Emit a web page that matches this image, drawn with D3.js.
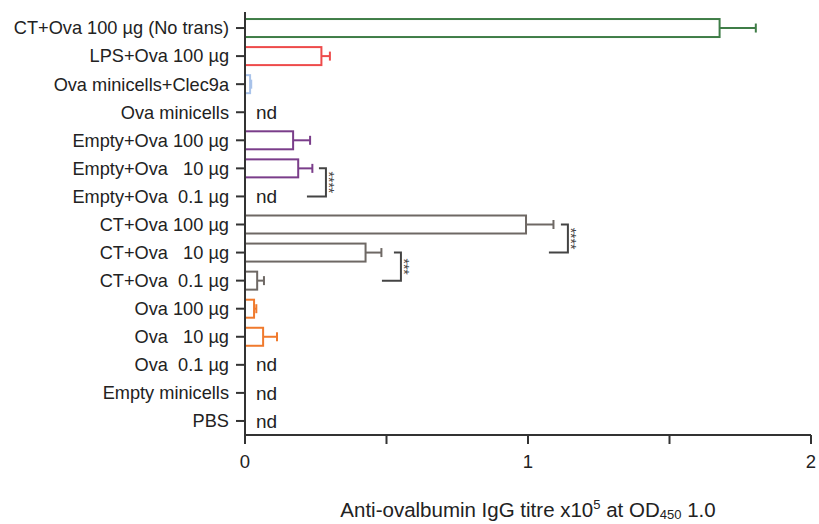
<!DOCTYPE html>
<html>
<head>
<meta charset="utf-8">
<script src="https://cdn.jsdelivr.net/npm/d3@7/dist/d3.min.js"></script>
<style>
  html, body { margin: 0; padding: 0; background: #fff; }
  svg { display: block; font-family: "Liberation Sans", Arial, Helvetica, sans-serif; }
</style>
</head>
<body>
<svg id="chart" width="819" height="524"></svg>
<script>
// Groups, top to bottom
const groups = [
  "CT+Ova 100 µg (No trans)",
  "LPS+Ova 100 µg",
  "Ova minicells+Clec9a",
  "Ova minicells",
  "Empty+Ova 100 µg",
  "Empty+Ova   10 µg",
  "Empty+Ova  0.1 µg",
  "CT+Ova 100 µg",
  "CT+Ova   10 µg",
  "CT+Ova  0.1 µg",
  "Ova 100 µg",
  "Ova   10 µg",
  "Ova  0.1 µg",
  "Empty minicells",
  "PBS"
];
// Mean titre (x10^5); null = not detected
const means = [1.677, 0.27, 0.018, null, 0.17, 0.188, null, 0.993, 0.426, 0.043, 0.032, 0.064, null, null, null];
// Upper end of the error bar (mean + SEM)
const upper = [1.805, 0.30, 0.022, null, 0.23, 0.238, null, 1.09, 0.482, 0.067, 0.04, 0.113, null, null, null];
const colors = ["#3f7d47", "#ee4b4b", "#a9c3ea", "#7a3d8a", "#7a3d8a", "#7a3d8a", "#7a3d8a",
                "#6e6864", "#6e6864", "#6e6864", "#f07a2d", "#f07a2d", "#f07a2d", "#333", "#333"];

// Significance comparisons: from group, to group, bracket position (titre units), label
const compFrom = ["Empty+Ova   10 µg", "CT+Ova 100 µg", "CT+Ova   10 µg"];
const compTo   = ["Empty+Ova  0.1 µg", "CT+Ova   10 µg", "CT+Ova  0.1 µg"];
const compAt   = [0.286, 1.141, 0.551];
const compStars = ["****", "****", "***"];

const xTicks = [0, 0.5, 1, 1.5, 2];
const xTickLabels = ["0", "", "1", "", "2"];

const svg = d3.select("#chart");
const x0 = 245, x1 = 811, yTop = 14, yBottom = 435;

const x = d3.scaleLinear().domain([0, 2]).range([x0, x1]);
const y = d3.scalePoint().domain(groups).range([yTop, yBottom]).padding(0.5);
const barH = 18;

const data = groups.map((g, i) => ({ g, m: means[i], u: upper[i], c: colors[i] }));

// Bars
const present = data.filter(d => d.m !== null);
svg.append("g").selectAll("rect").data(present).join("rect")
  .attr("x", x(0))
  .attr("y", d => y(d.g) - barH / 2)
  .attr("width", d => x(d.m) - x(0))
  .attr("height", barH)
  .attr("fill", "none")
  .attr("stroke", d => d.c)
  .attr("stroke-width", 2);

// Error bars
const eb = svg.append("g").selectAll("g").data(present).join("g")
  .attr("stroke", d => d.c).attr("stroke-width", 2).attr("fill", "none");
eb.append("line")
  .attr("x1", d => x(d.m)).attr("x2", d => x(d.u))
  .attr("y1", d => y(d.g)).attr("y2", d => y(d.g));
eb.append("line")
  .attr("x1", d => x(d.u)).attr("x2", d => x(d.u))
  .attr("y1", d => y(d.g) - 4.5).attr("y2", d => y(d.g) + 4.5);

// "nd" labels
svg.append("g").selectAll("text").data(data.filter(d => d.m === null)).join("text")
  .attr("x", x(0) + 11)
  .attr("y", d => y(d.g))
  .attr("dy", "0.35em")
  .attr("font-size", 19)
  .attr("fill", "#222")
  .text("nd");

// Y axis
const yAxis = svg.append("g").attr("transform", `translate(${x0},0)`);
yAxis.append("line").attr("x1", 0).attr("x2", 0).attr("y1", 12).attr("y2", yBottom)
  .attr("stroke", "#333").attr("stroke-width", 2);
yAxis.selectAll(".tk").data(groups).join("line")
  .attr("x1", -9).attr("x2", 0)
  .attr("y1", d => y(d)).attr("y2", d => y(d))
  .attr("stroke", "#333").attr("stroke-width", 2);
yAxis.selectAll("text").data(groups).join("text")
  .attr("x", -16)
  .attr("y", d => y(d))
  .attr("dy", "0.35em")
  .attr("text-anchor", "end")
  .attr("font-size", 18.2)
  .attr("fill", "#222")
  .style("white-space", "pre")
  .text(d => d);

// X axis
const xAxis = svg.append("g").attr("transform", `translate(0,${yBottom})`);
xAxis.append("line").attr("x1", x0).attr("x2", x(2)).attr("y1", 0).attr("y2", 0)
  .attr("stroke", "#333").attr("stroke-width", 2);
xAxis.selectAll(".tk").data(xTicks).join("line")
  .attr("x1", d => x(d)).attr("x2", d => x(d))
  .attr("y1", 0).attr("y2", 9)
  .attr("stroke", "#333").attr("stroke-width", 2);
xAxis.selectAll("text").data(xTicks).join("text")
  .attr("x", d => x(d))
  .attr("y", 27)
  .attr("dy", "0.35em")
  .attr("text-anchor", "middle")
  .attr("font-size", 18.5)
  .attr("fill", "#222")
  .text((d, i) => xTickLabels[i]);

// X axis title
const title = svg.append("text")
  .attr("x", x(1))
  .attr("y", 517)
  .attr("text-anchor", "middle")
  .attr("font-size", 20.5)
  .attr("fill", "#222");
title.append("tspan").text("Anti-ovalbumin IgG titre x10");
title.append("tspan").attr("font-size", 13).attr("dy", -8).text("5");
title.append("tspan").attr("dy", 8).text(" at OD");
title.append("tspan").attr("font-size", 13).attr("dy", 2).text("450");
title.append("tspan").attr("dy", -2).text(" 1.0");

// Significance brackets
const comps = compFrom.map((f, i) => ({ f, t: compTo[i], at: compAt[i], s: compStars[i] }));
const br = svg.append("g").selectAll("g").data(comps).join("g");
br.append("path")
  .attr("fill", "none").attr("stroke", "#444").attr("stroke-width", 2)
  .attr("d", d => {
    const xv = x(d.at), ya = y(d.f), yb = y(d.t);
    return `M${xv - 7},${ya}H${xv}V${yb}H${xv - 19}`;
  });
br.append("text")
  .attr("transform", d => `translate(${x(d.at) - 2},${(y(d.f) + y(d.t)) / 2}) rotate(90)`)
  .attr("text-anchor", "middle")
  .attr("font-size", 14)
  .attr("fill", "#444")
  .text(d => d.s);
</script>
</body>
</html>
